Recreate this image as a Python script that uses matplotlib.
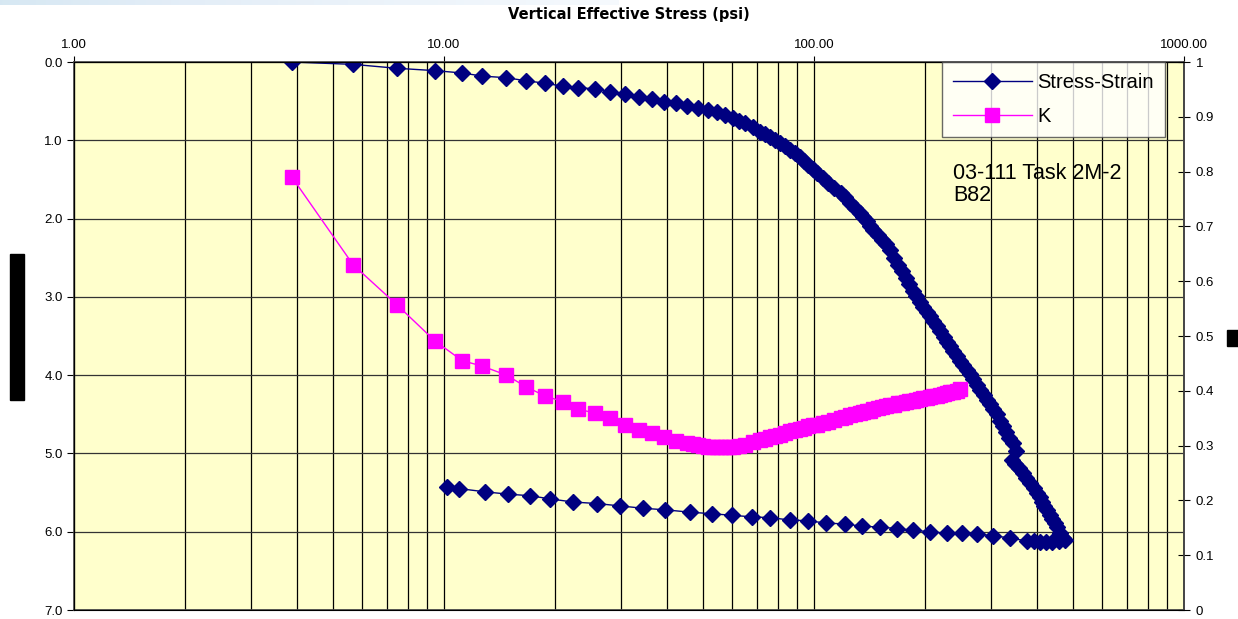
import numpy as np
import matplotlib.pyplot as plt
from matplotlib.patches import Rectangle
from matplotlib.ticker import FixedLocator, NullFormatter, LogLocator

plt.rcParams['font.family'] = ['Liberation Sans', 'DejaVu Sans']

# loading branch (psi, strain %)
load_stress = [3.88, 5.68, 7.46, 9.45, 11.2, 12.7, 14.7, 16.7, 18.7, 21.0, 23.0, 25.6,
               28.1, 30.8, 33.7, 36.5, 39.3, 42.4, 45.4, 48.6, 51.7, 54.7, 57.4,
               60.4, 62.7, 65.1, 68.2, 71.5, 73.8, 76.1, 78.5, 80.9, 83.5, 86.1, 88.8,
               91.6, 94.0, 96.4, 99.2, 102, 105.5, 109, 113.5, 118, 121.5, 125, 129,
               133, 136, 139, 141.5, 144, 148.5, 153, 156.5, 160, 164.5, 169, 173,
               177, 181, 185, 189, 193, 197.5, 202, 206, 210, 214.5, 219, 224, 229,
               233.5, 238, 243, 248, 253.5, 259, 264, 269, 275, 281, 287.5, 294,
               299.5, 305, 311.5, 318, 324, 330, 337.5, 345, 352, 342, 349, 357, 367,
               375, 384, 392, 401, 407, 413, 419, 426, 433, 440, 447, 454, 462, 471, 477]
load_strain = [0.0, 0.03, 0.08, 0.11, 0.14, 0.18, 0.20, 0.24, 0.27, 0.31, 0.33, 0.34,
               0.38, 0.41, 0.45, 0.47, 0.51, 0.52, 0.56, 0.59, 0.61, 0.64, 0.68,
               0.72, 0.75, 0.78, 0.83, 0.89, 0.92, 0.96, 0.99, 1.03, 1.07, 1.12, 1.16,
               1.21, 1.26, 1.32, 1.37, 1.42, 1.48, 1.55, 1.61, 1.67, 1.73, 1.80, 1.86,
               1.93, 1.98, 2.03, 2.09, 2.15, 2.21, 2.27, 2.33, 2.40, 2.50, 2.59, 2.67,
               2.76, 2.84, 2.92, 2.99, 3.07, 3.13, 3.19, 3.25, 3.31, 3.37, 3.44, 3.51, 3.58,
               3.63, 3.69, 3.75, 3.82, 3.87, 3.93, 3.99, 4.05, 4.12, 4.19, 4.25, 4.32,
               4.37, 4.43, 4.50, 4.58, 4.65, 4.73, 4.80, 4.87, 4.97, 5.08, 5.13, 5.19, 5.25,
               5.31, 5.38, 5.44, 5.50, 5.56, 5.62, 5.67, 5.72, 5.78, 5.84, 5.89, 5.94, 6.01,
               6.08, 6.10]

# unloading branch
unload_stress = [460, 440, 424, 408, 392, 377, 339, 305, 276, 251, 229, 206, 185, 168,
                 151, 135, 121, 108, 96.4, 86.1, 76.1, 68.0, 60.0, 53.0, 46.2, 39.6,
                 34.5, 29.9, 25.9, 22.3, 19.3, 17.1, 14.9, 12.9, 11.0, 10.2]
unload_strain = [6.12, 6.13, 6.13, 6.13, 6.12, 6.12, 6.08, 6.05, 6.03, 6.02, 6.02, 6.00,
                 5.98, 5.96, 5.94, 5.93, 5.90, 5.89, 5.86, 5.85, 5.82, 5.81, 5.79, 5.77,
                 5.75, 5.72, 5.70, 5.67, 5.64, 5.62, 5.58, 5.54, 5.52, 5.49, 5.45, 5.43]

# K (right axis)
k_stress = [3.88, 5.68, 7.46, 9.45, 11.2, 12.7, 14.7, 16.7, 18.7, 21.0, 23.0, 25.6,
            28.1, 30.8, 33.7, 36.5, 39.3, 42.4, 45.4, 47.0, 48.6, 50.1, 51.7, 53.2,
            54.7, 56.0, 57.4, 58.9, 60.4, 62.7, 65.1, 68.2, 71.5, 73.8, 76.1, 78.5,
            80.9, 83.5, 86.1, 88.8, 91.6, 94.0, 96.4, 99.2, 102, 105.5, 109, 113.5,
            118, 121.5, 125, 129, 133, 136, 139, 141.5, 144, 148.5, 153, 156.5, 160,
            164.5, 169, 173, 177, 181, 185, 189, 193, 197.5, 202, 206, 210, 214.5,
            219, 224, 229, 233.5, 238, 243, 248]
k_values = [0.790, 0.630, 0.557, 0.491, 0.455, 0.445, 0.429, 0.407, 0.391, 0.380, 0.367,
            0.359, 0.350, 0.338, 0.328, 0.323, 0.316, 0.308, 0.305, 0.303, 0.301, 0.300,
            0.298, 0.297, 0.297, 0.297, 0.297, 0.297, 0.298, 0.300, 0.302, 0.306, 0.310,
            0.312, 0.315, 0.317, 0.320, 0.323, 0.326, 0.328, 0.331, 0.333, 0.335, 0.337,
            0.338, 0.341, 0.344, 0.347, 0.350, 0.352, 0.355, 0.357, 0.360, 0.361, 0.363,
            0.364, 0.366, 0.368, 0.370, 0.372, 0.374, 0.375, 0.377, 0.378, 0.380, 0.381,
            0.382, 0.383, 0.385, 0.386, 0.387, 0.389, 0.390, 0.391, 0.393, 0.394, 0.396,
            0.397, 0.398, 0.400, 0.403]

strain_ticks = [0, 1, 2, 3, 4, 5, 6, 7]
k_ticks = [0, 0.1, 0.2, 0.3, 0.4, 0.5, 0.6, 0.7, 0.8, 0.9, 1.0]
x_ticks = [1, 10, 100, 1000]

navy = '#000080'
magenta = '#FF00FF'

fig = plt.figure(figsize=(12.38, 6.19), dpi=100)

# faint blue band along the top edge
grad = fig.add_axes([0, 0.992, 0.5, 0.008])
grad.imshow(np.linspace(0, 1, 256)[None, :], cmap='Blues_r', aspect='auto',
            vmin=-2.5, vmax=1.2, alpha=0.5)
grad.axis('off')

ax = fig.add_axes([0.0598, 0.0145, 0.8966, 0.8853])
ax.set_facecolor('#FFFFCC')

stress_all = load_stress + unload_stress
strain_all = load_strain + unload_strain
ax.plot(stress_all, strain_all, color=navy, lw=1, marker='D', ms=8.3,
        mfc=navy, mec=navy, label='Stress-Strain', zorder=4)

ax.set_xscale('log')
ax.set_xlim(1, 1000)
ax.set_ylim(7, 0)
ax.xaxis.set_major_locator(FixedLocator(x_ticks))
ax.xaxis.set_minor_locator(LogLocator(base=10, subs=np.arange(2, 10)))
ax.xaxis.set_minor_formatter(NullFormatter())
ax.set_xticklabels(['%.2f' % v for v in x_ticks])
ax.xaxis.tick_top()
ax.tick_params(axis='x', which='major', direction='out', length=4, labelsize=9.5, pad=4)
ax.tick_params(axis='x', which='minor', length=0)
ax.set_yticks(strain_ticks)
ax.set_yticklabels(['%.1f' % v for v in strain_ticks])
ax.tick_params(axis='y', direction='out', length=5, labelsize=9.5, pad=3)

ax.grid(True, which='both', axis='x', color='black', lw=0.9)
ax.grid(True, which='major', axis='y', color='#333333', lw=0.9)
ax.set_axisbelow(True)
for s in ax.spines.values():
    s.set_color('#444444')
    s.set_linewidth(1.2)

ax.set_xlabel('Vertical Effective Stress (psi)', fontsize=10.5, fontweight='bold',
              labelpad=14, family=['DejaVu Sans'])
ax.xaxis.set_label_position('top')

ax2 = ax.twinx()
ax2.plot(k_stress, k_values, color=magenta, lw=1, marker='s', ms=10.5,
         mfc=magenta, mec=magenta, label='K', zorder=4)
ax2.set_ylim(0, 1)
ax2.set_yticks(k_ticks)
ax2.set_yticklabels(['0', '0.1', '0.2', '0.3', '0.4', '0.5', '0.6', '0.7', '0.8', '0.9', '1'])
ax2.tick_params(axis='y', direction='inout', length=9, labelsize=9.5, pad=4)
ax2.spines['right'].set_color('#444444')
ax2.spines['right'].set_linewidth(1.2)

h1, l1 = ax.get_legend_handles_labels()
h2, l2 = ax2.get_legend_handles_labels()
leg = ax2.legend(h1 + h2, l1 + l2, loc='upper right', bbox_to_anchor=(0.983, 1.0),
                 fontsize=14.5, frameon=True, fancybox=False, borderpad=0.55,
                 borderaxespad=0, handlelength=3.9, handletextpad=0.3,
                 labelspacing=0.75)
leg.get_frame().set_edgecolor('#444444')
leg.get_frame().set_linewidth(1)

ax2.text(0.792, 0.815, '03-111 Task 2M-2\nB82', transform=ax2.transAxes,
         fontsize=15.5, va='top', ha='left', linespacing=1.05)

# black blocks where the side labels sit
fig.patches.append(Rectangle((10 / 1238, 1 - 400 / 619), 14 / 1238, 146 / 619,
                             transform=fig.transFigure, color='black', zorder=5))
fig.patches.append(Rectangle((1227 / 1238, 1 - 346 / 619), 11 / 1238, 16 / 619,
                             transform=fig.transFigure, color='black', zorder=5))

fig.savefig('out.png', dpi=100)
